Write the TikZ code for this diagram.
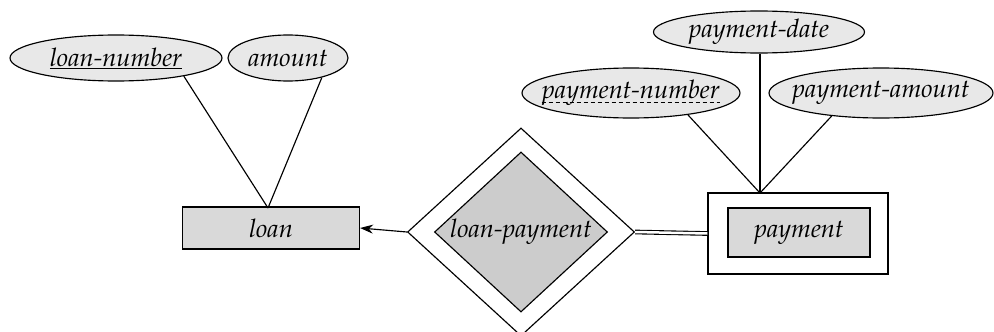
\documentclass[tikz,border=0pt]{standalone}
\usepackage[T1]{fontenc}
\renewcommand\rmdefault{ppl}
\usetikzlibrary{shapes.geometric,arrows.meta}
\definecolor{attrgray}{gray}{0.91}
\definecolor{entgray}{gray}{0.85}
\definecolor{relgray}{gray}{0.80}
\begin{document}
\begin{tikzpicture}[x=1pt,y=-1pt,
  font=\fontsize{25.5}{30}\selectfont\itshape,
  every path/.style={line width=1.15pt},
  attr/.style={ellipse, draw, fill=attrgray, inner sep=0pt},
  entity/.style={rectangle, draw, fill=entgray, inner sep=0pt}]
\useasboundingbox (0,0) rectangle (994,332);
% attributes of loan
\node[attr, minimum width=212pt, minimum height=46pt, label={[name=lnt]center:\underline{loan-number}}] (ln) at (116,58) {};
\node[attr, minimum width=120pt, minimum height=46pt, label={[name=amt]center:amount}] (am) at (288,58) {};
% loan entity
\node[entity, minimum width=177pt, minimum height=42pt] (loan) at (271,228) {loan};
\coordinate (lj) at (268,208);
% relationship
\node[diamond, draw, fill=white, minimum width=227pt, minimum height=208pt, inner sep=0pt] (relo) at (521,232) {};
\node[diamond, draw, fill=relgray, minimum width=173pt, minimum height=160pt, inner sep=0pt, aspect=1.08] (rel) at (521,232) {loan-payment};
% payment weak entity
\node[rectangle, draw, fill=white, minimum width=180pt, minimum height=81pt, inner sep=0pt] (payo) at (798,233.5) {};
\node[entity, minimum width=142pt, minimum height=49pt] (pay) at (799,232.5) {payment};
\coordinate (pj) at (760,193);
% payment attributes
\node[attr, minimum width=211pt, minimum height=42pt, label={[name=pdt]center:payment-date}] (pd) at (759,32) {};
\node[attr, minimum width=218pt, minimum height=50pt, label={[name=pnt, inner sep=0pt]center:payment-number}] (pn) at (631,93) {};
\draw[dash pattern=on 4pt off 3pt, line width=0.8pt] ([yshift=-4pt]pnt.base west) -- ([yshift=-4pt]pnt.base east);
\node[attr, minimum width=224pt, minimum height=50pt, label={[name=pat]center:payment-amount}] (pa) at (881,93) {};
% connectors
\draw (ln.-15) -- (lj);
\draw (am.-30) -- (lj);
\draw[-{Stealth[length=13pt,width=9pt]}] (relo.west) -- (loan.east);
\draw[double, double distance=2.5pt, line width=1.1pt] (relo.east) -- (payo.west);
\draw (pn.-21) -- (pj);
\draw (pd.south -| pj) -- (pj);
\draw (pa.-155) -- (pj);
\end{tikzpicture}
\end{document}
